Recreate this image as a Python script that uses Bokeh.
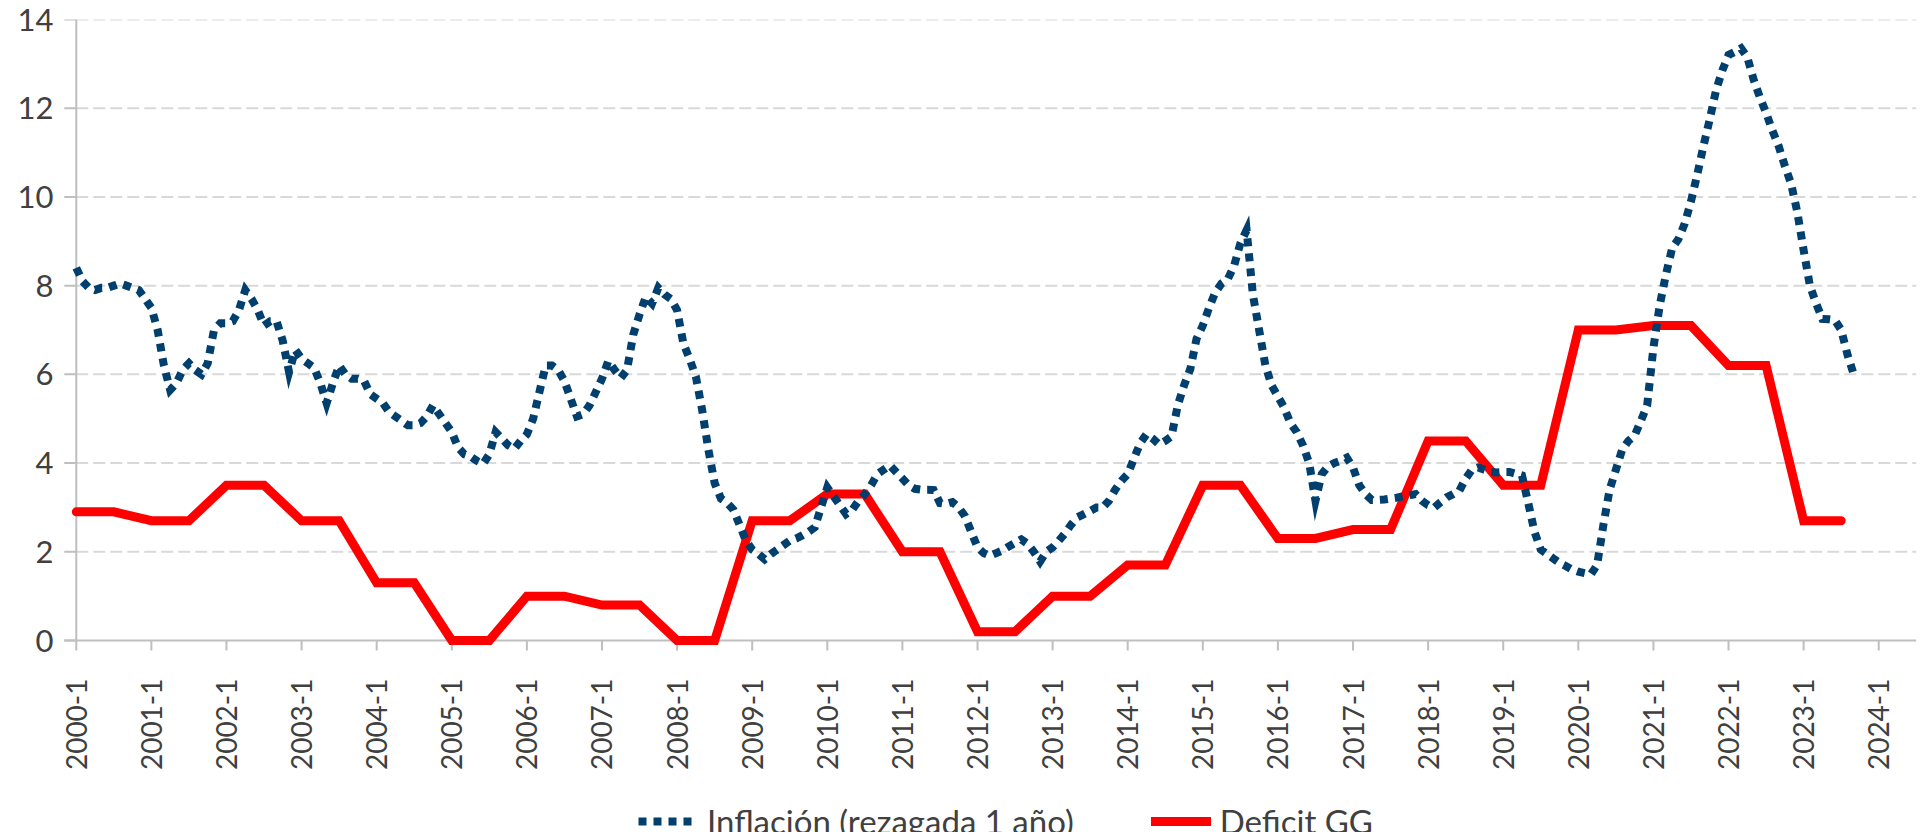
import math
from bokeh.plotting import figure
from bokeh.models import Range1d, FixedTicker, Legend, LegendItem
from bokeh.core.properties import value
from bokeh.embed import file_html
from bokeh.resources import INLINE

# ---------------- data ----------------
anios = list(range(2000, 2025))
etiquetas_x = [f"{a}-1" for a in anios]
valores_y = [0, 2, 4, 6, 8, 10, 12, 14]

# Deficit GG (annual value, first semester)
deficit_gg = [2.9, 2.7, 3.5, 2.7, 1.3, 0.0, 1.0, 0.8, 0.0, 2.7, 3.3, 2.0,
              0.2, 1.0, 1.7, 3.5, 2.3, 2.5, 4.5, 3.5, 7.0, 7.1, 6.2, 2.7]

# Inflación (rezagada 1 año), monthly, 2000-1 .. 2023-9
inflacion = [
    8.4, 8.1, 7.95, 7.9, 7.95, 7.95, 8.0, 8.05, 8.0, 7.95, 7.9, 7.7,        # 2000
    7.5, 7.0, 6.2, 5.65, 5.8, 6.1, 6.25, 6.1, 6.0, 6.25, 7.0, 7.15,        # 2001
    7.15, 7.2, 7.45, 7.9, 7.7, 7.45, 7.1, 7.2, 7.2, 6.75, 6.05, 6.55,      # 2002
    6.35, 6.25, 6.15, 5.8, 5.35, 5.8, 6.2, 6.0, 5.9, 5.9, 5.85, 5.55,      # 2003
    5.45, 5.35, 5.15, 5.05, 4.95, 4.85, 4.85, 4.9, 5.05, 5.3, 5.1, 4.9,    # 2004
    4.7, 4.35, 4.2, 4.15, 4.05, 3.98, 4.2, 4.7, 4.55, 4.4, 4.32, 4.5,      # 2005
    4.65, 5.0, 5.6, 6.2, 6.2, 6.1, 5.85, 5.45, 5.05, 5.1, 5.3, 5.6,        # 2006
    5.9, 6.3, 6.1, 5.92, 6.1, 6.9, 7.35, 7.75, 7.6, 7.95, 7.8, 7.7,        # 2007
    7.45, 6.7, 6.35, 5.95, 5.2, 4.3, 3.55, 3.2, 3.1, 2.95, 2.6, 2.25,      # 2008
    2.05, 1.95, 1.83, 1.95, 2.05, 2.15, 2.25, 2.3, 2.37, 2.45, 2.55, 3.0,  # 2009
    3.45, 3.25, 3.05, 2.85, 2.95, 3.15, 3.3, 3.5, 3.75, 3.85, 3.95, 3.8,   # 2010
    3.65, 3.5, 3.42, 3.4, 3.4, 3.39, 3.1, 3.08, 3.12, 3.0, 2.8, 2.45,      # 2011
    2.1, 1.97, 1.91, 1.97, 2.03, 2.12, 2.2, 2.28, 2.18, 2.0, 1.78, 2.0,    # 2012
    2.1, 2.25, 2.42, 2.62, 2.78, 2.85, 2.92, 3.0, 3.0, 3.15, 3.4, 3.6,     # 2013
    3.75, 4.1, 4.45, 4.65, 4.55, 4.42, 4.5, 4.6, 5.3, 5.75, 6.12, 6.8,     # 2014
    7.1, 7.5, 7.85, 8.05, 8.15, 8.45, 8.95, 9.25, 7.8, 7.0, 6.2, 5.75,     # 2015
    5.5, 5.25, 4.9, 4.7, 4.4, 4.0, 3.15, 3.75, 3.92, 4.0, 4.05, 4.12,      # 2016
    3.9, 3.5, 3.3, 3.17, 3.17, 3.18, 3.2, 3.22, 3.25, 3.27, 3.3, 3.15,     # 2017
    3.05, 3.0, 3.12, 3.23, 3.3, 3.38, 3.65, 3.85, 3.9, 3.85, 3.8, 3.79,    # 2018
    3.8, 3.8, 3.76, 3.72, 3.1, 2.45, 2.05, 1.95, 1.85, 1.75, 1.68, 1.6,    # 2019
    1.55, 1.52, 1.49, 1.7, 2.6, 3.4, 3.85, 4.3, 4.5, 4.62, 4.95, 5.3,      # 2020
    6.6, 7.55, 8.25, 8.85, 9.05, 9.4, 9.9, 10.5, 11.15, 11.75, 12.4, 12.85,  # 2021
    13.2, 13.27, 13.35, 13.15, 12.65, 12.25, 11.9, 11.5, 11.15, 10.7, 10.3, 9.65,  # 2022
    8.8, 8.0, 7.6, 7.25, 7.24, 7.22, 7.0, 6.45, 6.0,                       # 2023
]

# ---------------- derived x positions (month index) ----------------
x_infl = list(range(len(inflacion)))
x_def, y_def = [], []
for i, v in enumerate(deficit_gg):
    x_def += [12 * i, 12 * i + 6]
    y_def += [v, v]
x_ticks = [12 * i for i in range(len(etiquetas_x))]

FONT = "Lato"
TXT = "#404040"
AXC = "#BFBFBF"
NAVY = "#003F6E"
RED = "#FF0000"

PX_PER_MONTH = 1840 / 294.0
PX_PER_UNIT = 621 / 14.0
FRAME_W = 1859
FRAME_H = 813
X_MIN = -3
X_MAX = X_MIN + FRAME_W / PX_PER_MONTH
Y_MIN = 14 - FRAME_H / PX_PER_UNIT
X_END = 294
TICK_X = 12 / PX_PER_MONTH   # y tick length (data units)
TICK_Y = 10 / PX_PER_UNIT    # x tick length (data units)

p = figure(frame_width=FRAME_W, frame_height=FRAME_H, output_backend="svg", toolbar_location=None,
           x_range=Range1d(X_MIN, X_MAX), y_range=Range1d(Y_MIN, 14), x_axis_location=None,
           min_border_left=57, min_border_right=6, min_border_top=19, min_border_bottom=0)
p.outline_line_color = None
p.background_fill_color = "white"
p.border_fill_color = "white"
p.xgrid.grid_line_color = None
p.ygrid.grid_line_color = None

# horizontal dashed grid lines (only across the plot area)
grid_y = [v for v in valores_y if v > 0]
p.segment(x0=[0] * len(grid_y), y0=grid_y, x1=[X_END] * len(grid_y), y1=grid_y,
          line_color="#D9D9D9", line_width=2, line_dash="12 5")

# y axis line and ticks
p.segment(x0=[0], y0=[0], x1=[0], y1=[14], line_color=AXC, line_width=2)
p.segment(x0=[0] * len(valores_y), y0=valores_y, x1=[-TICK_X] * len(valores_y), y1=valores_y,
          line_color=AXC, line_width=2)

# x axis line, ticks and rotated labels
p.segment(x0=[-TICK_X], y0=[0], x1=[X_END], y1=[0], line_color=AXC, line_width=2)
p.segment(x0=x_ticks, y0=[0] * len(x_ticks), x1=x_ticks, y1=[-TICK_Y] * len(x_ticks),
          line_color=AXC, line_width=2)
p.text(x=x_ticks, y=[-38 / PX_PER_UNIT] * len(x_ticks), text=etiquetas_x,
       angle=math.pi / 2, text_align="right", text_baseline="middle",
       text_font=value(FONT), text_font_size=value("28px"), text_color=TXT)

r_def = p.line(x_def, y_def, line_color=RED, line_width=9, line_join="miter", line_cap="round")
r_inf = p.line(x_infl, inflacion, line_color=NAVY, line_width=8, line_dash="8 7",
               line_join="miter", line_cap="butt")

# y axis labels (axis line/ticks drawn above)
p.yaxis.ticker = FixedTicker(ticks=valores_y)
p.yaxis.bounds = (0, 14)
p.yaxis.axis_line_color = None
p.yaxis.major_tick_line_color = None
p.yaxis.minor_tick_line_color = None
p.yaxis.major_tick_out = 0
p.yaxis.major_tick_in = 0
p.yaxis.major_label_standoff = 4
p.yaxis.major_label_text_font_size = "31px"
p.yaxis.major_label_text_font = FONT
p.yaxis.major_label_text_color = TXT

legend = Legend(items=[LegendItem(label="Inflación (rezagada 1 año)", renderers=[r_inf]),
                       LegendItem(label="Deficit GG", renderers=[r_def])],
                location=(581, -9), orientation="horizontal",
                glyph_width=60, glyph_height=10, label_standoff=9, spacing=77,
                padding=0, margin=0, border_line_color=None, background_fill_alpha=0,
                label_text_font=FONT, label_text_font_size="33px", label_text_color=TXT)
p.add_layout(legend, "center")

open("out.html", "w").write(file_html(p, INLINE))
